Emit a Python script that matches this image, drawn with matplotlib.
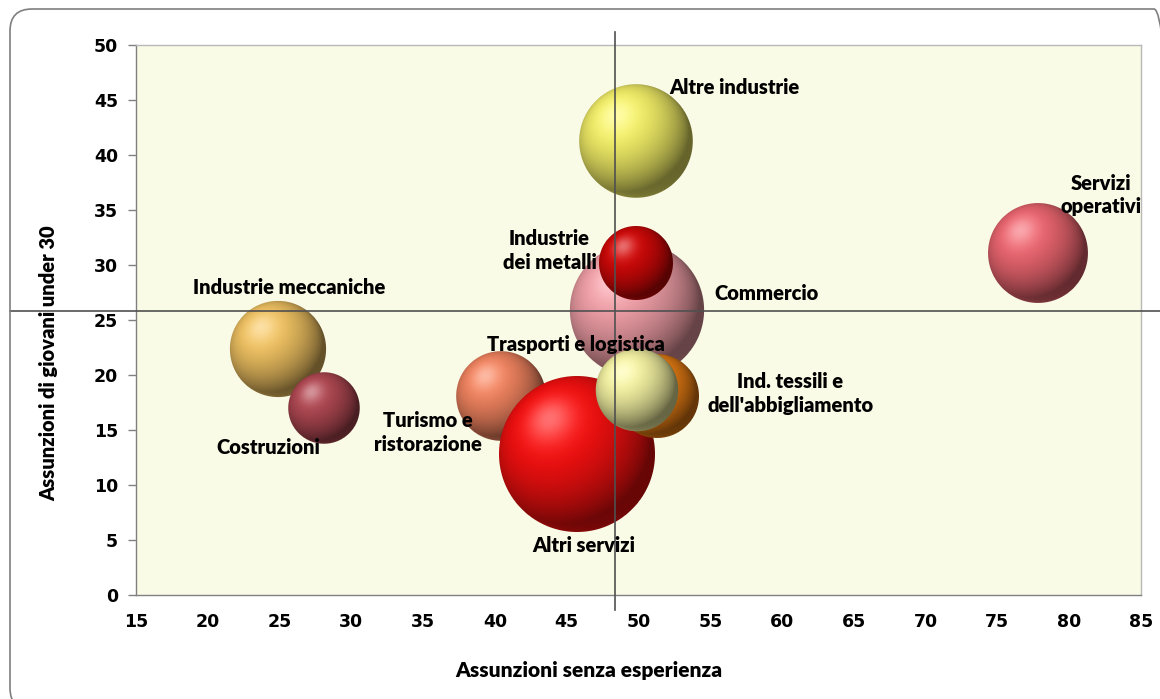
import numpy as np
import matplotlib
matplotlib.use("Agg")
from matplotlib import pyplot as plt
from matplotlib.offsetbox import OffsetImage, AnnotationBbox
from matplotlib.patches import FancyBboxPatch

# --- Data ---
settori = ["Commercio", "Altre industrie", "Industrie\ndei metalli", "Servizi\noperativi",
           "Industrie meccaniche", "Costruzioni", "Turismo e\nristorazione", "Altri servizi",
           "Ind. tessili e\ndell'abbigliamento", "Trasporti e logistica"]
senza_esperienza = [49.9, 49.8, 49.8, 77.8, 24.9, 28.1, 40.4, 45.7, 51.3, 49.9]
giovani_under30 = [25.9, 41.3, 30.2, 31.1, 22.4, 17.0, 18.1, 12.8, 18.1, 18.6]
peso_assunzioni = [74, 53, 22.5, 41, 38, 21, 33, 100, 29, 28]
media_x = 48.4
media_y = 25.8

# --- Style ---
colori = ["#F2A0A8", "#F4F068", "#D00808", "#EC6670", "#F0C262", "#B04852",
          "#F28460", "#F81010", "#EC8014", "#F4F2A2"]
label_offsets = [(129, 17), (99, 53), (-86, 12), (63, 58), (11, 61), (-56, -40),
                 (-73, -37), (7, -91), (133, 2), (-61, 46)]
max_radius_px = 78
label_font = ["Lato", "DejaVu Sans"]


def sphere_image(color, radius):
    # shaded ball, one image pixel per screen pixel
    base = np.array(matplotlib.colors.to_rgb(color))
    n = int(np.ceil(radius)) * 2 + 2
    c = (n - 1) / 2.0
    yy, xx = np.mgrid[0:n, 0:n]
    nx = (xx - c) / radius
    ny = (c - yy) / radius
    r2 = nx ** 2 + ny ** 2
    nz = np.sqrt(np.clip(1 - r2, 0, 1))
    light = np.array([-0.35, 0.45, 0.82])
    light = light / np.linalg.norm(light)
    diff = np.clip(nx * light[0] + ny * light[1] + nz * light[2], 0, 1)
    shade = 0.42 + 0.62 * diff
    rgb = base[None, None, :] * shade[..., None]
    # soft reflected rim at lower left
    rim = np.clip(-nx * 0.5 - ny * 0.7, 0, 1) * (1 - nz) ** 2 * 0.35
    rgb = rgb * (1 - rim[..., None]) + base[None, None, :] * rim[..., None]
    spec = (diff ** 20) * 0.40
    rgb = rgb * (1 - spec[..., None]) + spec[..., None]
    rgb = np.clip(rgb, 0, 1)
    alpha = np.clip((1 - np.sqrt(r2)) * radius + 0.5, 0, 1)
    return np.dstack([rgb, alpha])


fig = plt.figure(figsize=(11.6, 6.99), dpi=100)
fig.patch.set_facecolor("white")
# outer rounded frame (runs off the right and bottom edges)
frame = FancyBboxPatch((10, -11), 1166, 701, boxstyle="round,pad=0,rounding_size=22",
                       facecolor="none", edgecolor="#7F7F7F", lw=1.2)
frame.set_transform(matplotlib.transforms.IdentityTransform())
fig.patches.append(frame)

ax = fig.add_axes([0.1172, 0.1488, 0.8664, 0.7868])
ax.set_facecolor("#FAFBE6")
ax.set_xlim(15, 85)
ax.set_ylim(0, 50)
ax.set_xticks(np.arange(15, 86, 5))
ax.set_yticks(np.arange(0, 51, 5))

for s in ["top", "right"]:
    ax.spines[s].set_color("#B8B8B8")
    ax.spines[s].set_linewidth(1.0)
for s in ["left", "bottom"]:
    ax.spines[s].set_color("#808080")
    ax.spines[s].set_linewidth(1.0)
ax.tick_params(axis="y", length=6, width=1, color="#808080", pad=7)
ax.tick_params(axis="x", length=0, pad=13)
for lab in ax.get_xticklabels() + ax.get_yticklabels():
    lab.set_fontfamily("DejaVu Sans")
    lab.set_fontweight("bold")
    lab.set_fontsize(12.5)

ax.set_xlabel("Assunzioni senza esperienza", family=label_font, fontweight="heavy",
              fontsize=15)
ax.set_ylabel("Assunzioni di giovani under 30", family=label_font, fontweight="heavy",
              fontsize=14.5)
ax.xaxis.set_label_coords(0.4507, -0.12)
ax.yaxis.set_label_coords(-0.0776, 0.4218)

# bubbles
scale = max_radius_px / np.sqrt(max(peso_assunzioni))
for i, (x, y, p, col) in enumerate(zip(senza_esperienza, giovani_under30,
                                       peso_assunzioni, colori)):
    img = sphere_image(col, scale * np.sqrt(p))
    ab = AnnotationBbox(OffsetImage(img, zoom=1, dpi_cor=False), (x, y),
                        frameon=False, pad=0, zorder=2 + i * 0.1)
    ax.add_artist(ab)

# labels
for x, y, name, off in zip(senza_esperienza, giovani_under30, settori, label_offsets):
    ax.annotate(name, (x, y), xytext=off, textcoords="offset pixels",
                ha="center", va="center", family=label_font, fontweight="heavy",
                fontsize=14.5, linespacing=1.3, zorder=5)

# average lines
ax.axvline(media_x, ymin=-0.027, ymax=1.024, color="#505050", lw=1.2, clip_on=False, zorder=4)
ax.axhline(media_y, xmin=-0.125, xmax=1.02, color="#505050", lw=1.2, clip_on=False, zorder=4)

fig.savefig("out.png", dpi=100)
